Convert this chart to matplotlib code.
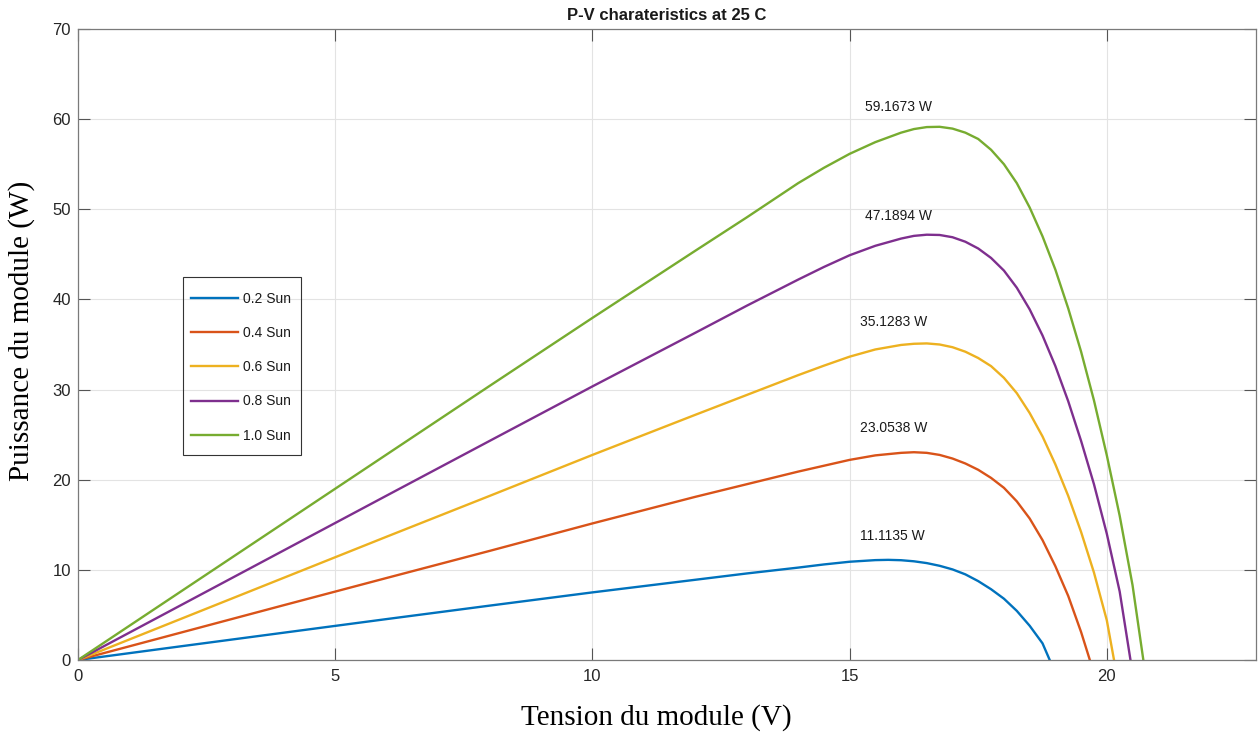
import matplotlib
matplotlib.use("Agg")
import matplotlib.pyplot as plt
from matplotlib.patches import Rectangle

# ---------------- data ----------------
v_green = [0, 2, 4, 6, 8, 10, 12, 13, 14, 14.5, 15, 15.5, 16, 16.25, 16.5, 16.75, 17, 17.25, 17.5,
           17.75, 18, 18.25, 18.5, 18.75, 19, 19.25, 19.5, 19.75, 20, 20.25, 20.5, 20.71]
p_green = [0, 7.6, 15.2, 22.8, 30.4, 37.95, 45.4, 49.1, 52.9, 54.6, 56.15, 57.45, 58.5, 58.9, 59.12, 59.15,
           58.95, 58.5, 57.8, 56.6, 55.0, 52.9, 50.2, 47.0, 43.3, 39.0, 34.2, 28.8, 22.7, 16.0, 8.3, 0]

v_purple = [0, 2, 4, 6, 8, 10, 12, 13, 14, 14.5, 15, 15.5, 16, 16.25, 16.5, 16.75, 17, 17.25, 17.5,
            17.75, 18, 18.25, 18.5, 18.75, 19, 19.25, 19.5, 19.75, 20, 20.25, 20.46]
p_purple = [0, 6.08, 12.16, 18.24, 24.3, 30.35, 36.3, 39.3, 42.2, 43.6, 44.9, 45.95, 46.75, 47.05, 47.18,
            47.15, 46.9, 46.4, 45.65, 44.6, 43.2, 41.3, 38.9, 36.0, 32.6, 28.7, 24.3, 19.5, 14.0, 7.6, 0]

v_yellow = [0, 2, 4, 6, 8, 10, 12, 13, 14, 14.5, 15, 15.5, 16, 16.25, 16.5, 16.75, 17, 17.25, 17.5,
            17.75, 18, 18.25, 18.5, 18.75, 19, 19.25, 19.5, 19.75, 20, 20.14]
p_yellow = [0, 4.56, 9.12, 13.68, 18.2, 22.75, 27.2, 29.4, 31.6, 32.65, 33.65, 34.45, 34.95, 35.08, 35.12,
            35.0, 34.7, 34.2, 33.5, 32.6, 31.3, 29.6, 27.4, 24.8, 21.7, 18.2, 14.2, 9.7, 4.4, 0]

v_orange = [0, 2, 4, 6, 8, 10, 12, 13, 14, 14.5, 15, 15.5, 16, 16.25, 16.5, 16.75, 17, 17.25, 17.5,
            17.75, 18, 18.25, 18.5, 18.75, 19, 19.25, 19.5, 19.67]
p_orange = [0, 3.04, 6.08, 9.1, 12.1, 15.15, 18.1, 19.5, 20.9, 21.55, 22.2, 22.7, 22.98, 23.05, 22.98,
            22.75, 22.35, 21.8, 21.1, 20.2, 19.1, 17.6, 15.7, 13.3, 10.4, 7.1, 3.1, 0]

v_blue = [0, 2, 4, 6, 8, 10, 12, 13, 14, 14.5, 15, 15.5, 15.75, 16, 16.25, 16.5, 16.75, 17, 17.25,
          17.5, 17.75, 18, 18.25, 18.5, 18.75, 18.89]
p_blue = [0, 1.52, 3.03, 4.54, 6.03, 7.5, 8.9, 9.6, 10.25, 10.6, 10.9, 11.08, 11.11, 11.07, 10.95, 10.75,
          10.45, 10.05, 9.5, 8.75, 7.85, 6.8, 5.45, 3.8, 1.85, 0]

series_labels = ["0.2 Sun", "0.4 Sun", "0.6 Sun", "0.8 Sun", "1.0 Sun"]
peak_values = [11.1135, 23.0538, 35.1283, 47.1894, 59.1673]
peak_label_x = [15.2, 15.2, 15.2, 15.3, 15.3]
peak_label_y = [13.8, 25.75, 37.5, 49.25, 61.35]

xticks = [0, 5, 10, 15, 20]
yticks = [0, 10, 20, 30, 40, 50, 60, 70]

colors = ["#0072BD", "#D95319", "#EDB120", "#7E2F8E", "#77AC30"]

# ---------------- figure ----------------
W, H = 1258, 735
fig = plt.figure(figsize=(W / 100, H / 100), dpi=100)
ax = fig.add_axes([78 / W, (H - 660) / H, 1178 / W, 631 / H])

sans = ["Liberation Sans", "DejaVu Sans"]
serif = ["Liberation Serif", "DejaVu Serif"]

curves = [(v_blue, p_blue), (v_orange, p_orange), (v_yellow, p_yellow),
          (v_purple, p_purple), (v_green, p_green)]
lines = []
for (v, p), c, lab in zip(curves, colors, series_labels):
    ln, = ax.plot(v, p, color=c, lw=1.7, label=lab, solid_joinstyle="round")
    lines.append(ln)

for xv, yv, pk in zip(peak_label_x, peak_label_y, peak_values):
    ax.text(xv, yv, f"{pk:.4f} W", family=sans, fontsize=10, color="#1a1a1a",
            ha="left", va="center")

ax.set_xlim(0, 22.9)
ax.set_ylim(0, 70)
ax.set_xticks(xticks)
ax.set_yticks(yticks)
ax.grid(True, color="#e3e3e3", lw=0.8)
ax.set_axisbelow(True)

for s in ax.spines.values():
    s.set_color("#7a7a7a")
    s.set_linewidth(0.9)
ax.tick_params(direction="in", length=8.6, width=0.8, color="#555555",
               top=True, right=True, labelsize=12, labelcolor="#262626")
ax.tick_params(axis="y", pad=5)
ax.tick_params(axis="x", pad=6.5)
for lab in ax.get_xticklabels() + ax.get_yticklabels():
    lab.set_family(sans)

# title and axis labels
fig.text(667 / W, 1 - 15 / H, "P-V charateristics at 25 C", family=sans, fontsize=12,
         fontweight="bold", ha="center", va="center", color="#1a1a1a")
fig.text(656 / W, 1 - 718 / H, "Tension du module (V)", family=serif, fontsize=21,
         ha="center", va="center", color="black")
fig.text(22 / W, 1 - 331 / H, "Puissance du module (W)", family=serif, fontsize=21,
         ha="center", va="center", rotation=90, color="black")

# legend (frameless) + manual box
leg = ax.legend(handles=lines, loc="upper left", frameon=False,
                bbox_to_anchor=((191 - 78) / 1178, (660 - 292) / 631),
                borderpad=0, borderaxespad=0, handlelength=3.4, handletextpad=0.35,
                labelspacing=1.45, prop={"family": sans, "size": 10})
for t in leg.get_texts():
    t.set_color("#1a1a1a")
ax.add_patch(Rectangle(((183 - 78) / 1178, (660 - 455) / 631), 118 / 1178, 178 / 631,
                       transform=ax.transAxes, fill=False, edgecolor="#333333", lw=0.8,
                       zorder=5))

fig.savefig("out.png", dpi=100)
